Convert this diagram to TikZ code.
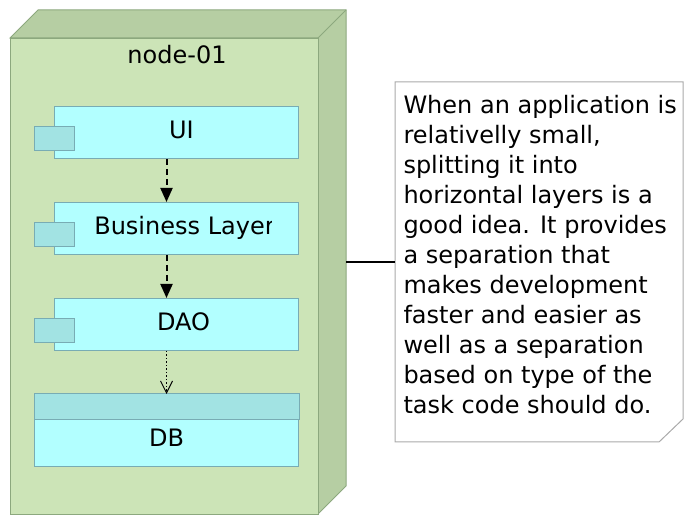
\documentclass[tikz,border=0pt]{standalone}
\usepackage{fontspec}
\setmainfont{DejaVu Sans}
\usetikzlibrary{arrows.meta,positioning}
\definecolor{nodefront}{RGB}{204,228,183}
\definecolor{nodeside}{RGB}{182,206,163}
\definecolor{nodeline}{RGB}{140,168,126}
\definecolor{compfill}{RGB}{178,255,255}
\definecolor{comptab}{RGB}{162,227,227}
\definecolor{compline}{RGB}{120,172,180}
\definecolor{noteline}{RGB}{170,170,170}
\tikzset{
  comp/.style={draw=compline,fill=compfill,minimum width=244pt,minimum height=52pt,inner sep=0pt,anchor=north west},
  comptab/.style={draw=compline,fill=comptab,minimum width=40pt,minimum height=24pt,inner sep=0pt},
  deparrow/.style={line width=2pt,dash pattern=on 6pt off 4pt,-{Triangle[length=14pt,width=12pt]}},
  usearrow/.style={line width=1.5pt,dash pattern=on 1.5pt off 2pt,-{Straight Barb[length=12pt,width=12pt,line width=1pt]}},
}

\begin{document}
\begin{tikzpicture}[x=1pt,y=-1pt,line width=1pt,font=\fontsize{24}{30}\selectfont]
    \useasboundingbox (0,0) rectangle (694,526);
    \coordinate (sideedge) at (346,10);
    \filldraw[draw=nodeline,fill=nodeside] (10,38) -- (38,10) -- (sideedge) -- (346,486) -- (318,514) -- (318,38) -- cycle;
    \draw[nodeline] (318,38) -- (sideedge);
    \node[draw=nodeline,fill=nodefront,minimum width=308pt,minimum height=476pt,inner sep=0pt,anchor=north west] (node01) at (10,38) {};
    \node[anchor=base] (node01title) at (177,64) {node-01};

    \node[comp] (ui) at (54,106) {};
    \node[comp] (business) at (54,202) {};
    \node[comp] (dao) at (54,298) {};
    \node[comp,minimum width=264pt,minimum height=72pt] (db) at (34,394) {};
    \draw[compline,fill=comptab] (db.north west) rectangle ([yshift=-26pt]db.north east);
    \foreach \c in {ui,business,dao}
        \node[comptab] (\c tab) at ([yshift=-6pt]\c.west) {};

    \node[anchor=base] (uilabel) at ([xshift=5pt,yshift=-6.5pt]ui.center) {UI};
    \begin{scope}
        \clip (business.north west) rectangle ([xshift=-28pt]business.south east);
        \node[anchor=base] (businesslabel) at ([xshift=8pt,yshift=-6.5pt]business.center) {Business Layer};
    \end{scope}
    \node[anchor=base] (daolabel) at ([xshift=7pt,yshift=-6.5pt]dao.center) {DAO};
    \node[anchor=base] (dblabel) at ([yshift=-16pt]db.center) {DB};

    \draw[deparrow] ([xshift=-10pt]ui.south) -- ([xshift=-10pt]business.north);
    \draw[deparrow] ([xshift=-10pt]business.south) -- ([xshift=-10pt]dao.north);
    \draw[usearrow] ([xshift=-10pt]dao.south) -- (db.north);

    \node[minimum width=287pt,minimum height=359pt,inner sep=0pt,anchor=north west] (note) at (395,82) {};
    \draw[noteline,fill=white] (note.north west) -- (note.north east) -- ([yshift=23pt]note.south east)
        -- ([xshift=-24pt]note.south east) -- (note.south west) -- cycle;
    \node[align=left,inner sep=0pt,anchor=north west] (notetext) at (403,94.5) {When an application is\\relativelly small,\\splitting it into\\horizontal layers is a\\good idea. It provides\\a separation that\\makes development\\faster and easier as\\well as a separation\\based on type of the\\task code should do.};
    \draw[line width=1.5pt] (note.west) -- (note.west -| sideedge);
\end{tikzpicture}
\end{document}
